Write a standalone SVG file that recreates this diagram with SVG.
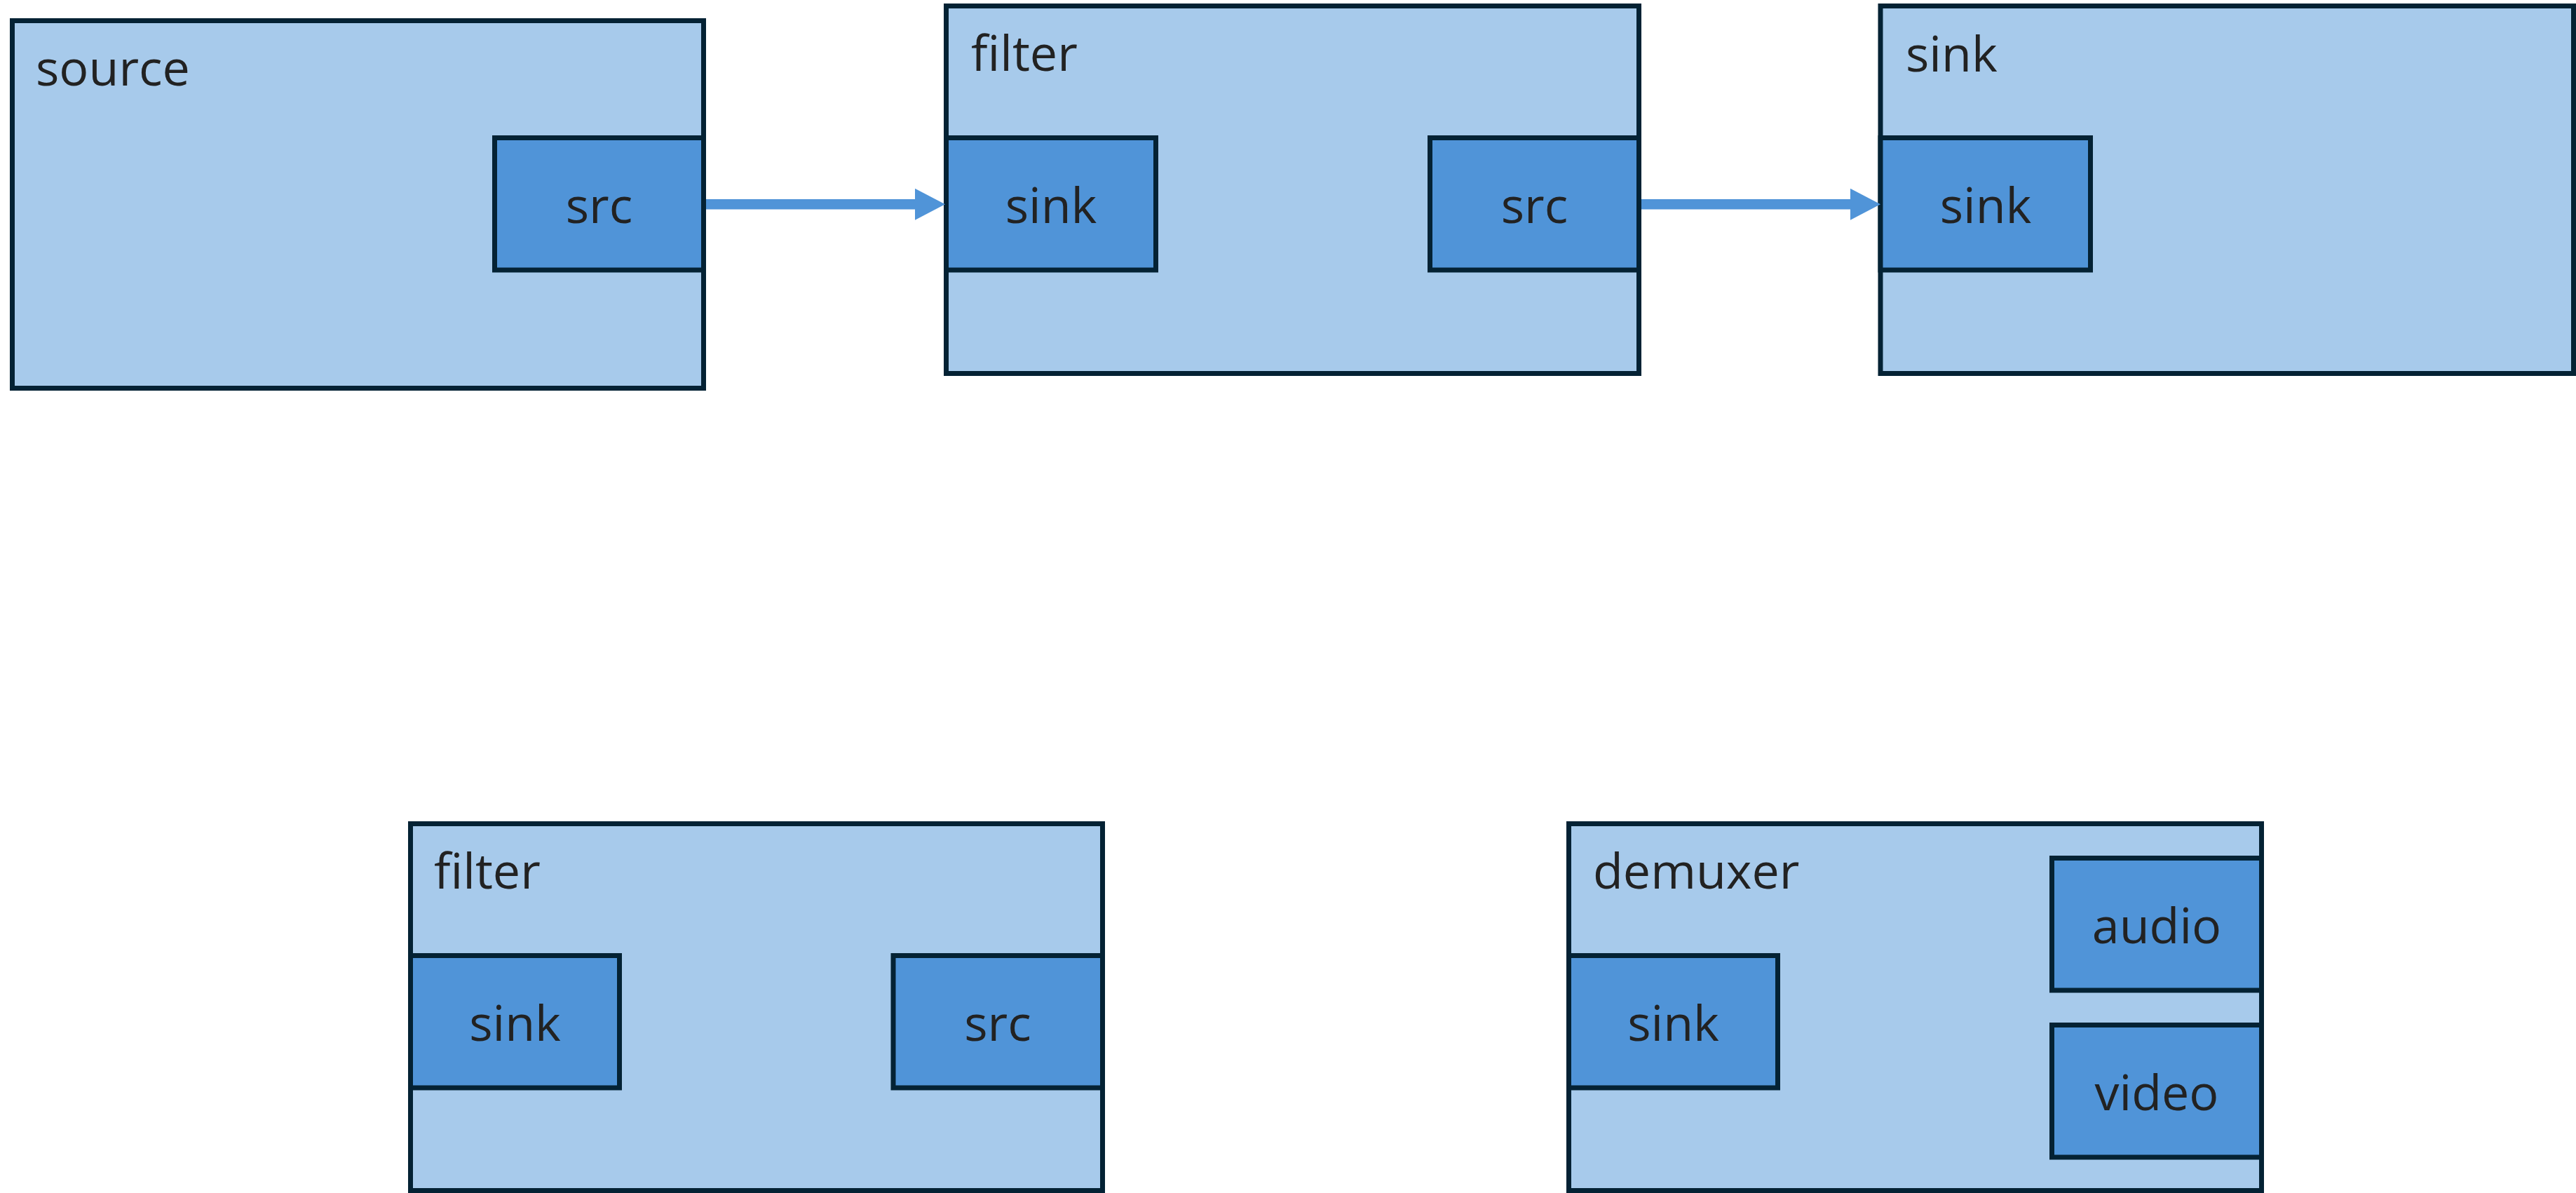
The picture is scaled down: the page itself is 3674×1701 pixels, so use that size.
<svg xmlns="http://www.w3.org/2000/svg" width="3674" height="1701" viewBox="0 0 3674 1701">
<style>
.el{fill:#A7CAEB;stroke:#042234;stroke-width:7}
.pad{fill:#5094D8;stroke:#042234;stroke-width:7}
.t{font-family:"Open Sans","Liberation Sans",sans-serif;font-size:70px;fill:#222222}
.c{text-anchor:middle}
.conn{stroke:#5094D8;stroke-width:14.5;fill:none}
</style>
<defs>
<marker id="ah" viewBox="0 0 43 45" refX="1" refY="22.5" markerWidth="43" markerHeight="45" markerUnits="userSpaceOnUse" orient="auto">
<path d="M0,0 L43,22.5 L0,45 z" fill="#5094D8"/>
</marker>
</defs>
<rect width="3674" height="1701" fill="#FFFFFF"/>
<g id="source">
<rect class="el" x="17.5" y="29.5" width="986" height="524"/>
<text class="t" x="51" y="122">source</text>
<rect class="pad" x="705.5" y="196.5" width="298" height="188.5"/>
<text class="t c" x="854.5" y="318">src</text>
</g>
<g id="filter">
<rect class="el" x="1349.5" y="8.5" width="988" height="524"/>
<text class="t" x="1385" y="101">filter</text>
<rect class="pad" x="1349.5" y="196.5" width="299" height="188.5"/>
<text class="t c" x="1499" y="318">sink</text>
<rect class="pad" x="2039.5" y="196.5" width="298" height="188.5"/>
<text class="t c" x="2188.5" y="318">src</text>
</g>
<g id="sink">
<rect class="el" x="2682" y="8.5" width="988.5" height="524"/>
<text class="t" x="2718" y="102">sink</text>
<rect class="pad" x="2682" y="196.5" width="299.5" height="188.5"/>
<text class="t c" x="2832" y="318">sink</text>
</g>
<g id="filter2">
<rect class="el" x="585.5" y="1174.5" width="987" height="523"/>
<text class="t" x="619" y="1267">filter</text>
<rect class="pad" x="585.5" y="1362.5" width="298" height="188.5"/>
<text class="t c" x="734.5" y="1484">sink</text>
<rect class="pad" x="1274" y="1362.5" width="298.5" height="188.5"/>
<text class="t c" x="1423" y="1484">src</text>
</g>
<g id="demuxer">
<rect class="el" x="2237.5" y="1174.5" width="988" height="523"/>
<text class="t" x="2272" y="1267">demuxer</text>
<rect class="pad" x="2237.5" y="1362.5" width="298" height="188.5"/>
<text class="t c" x="2386.5" y="1484">sink</text>
<rect class="pad" x="2926.5" y="1223.5" width="299" height="188.5"/>
<text class="t c" x="3076" y="1345">audio</text>
<rect class="pad" x="2926.5" y="1461.5" width="299" height="188.5"/>
<text class="t c" x="3076" y="1583">video</text>
</g>
<g id="connectors">
<path class="conn" d="M1007,291.3 H1306" marker-end="url(#ah)"/>
<path class="conn" d="M2341,291.3 H2640" marker-end="url(#ah)"/>
</g>
</svg>
